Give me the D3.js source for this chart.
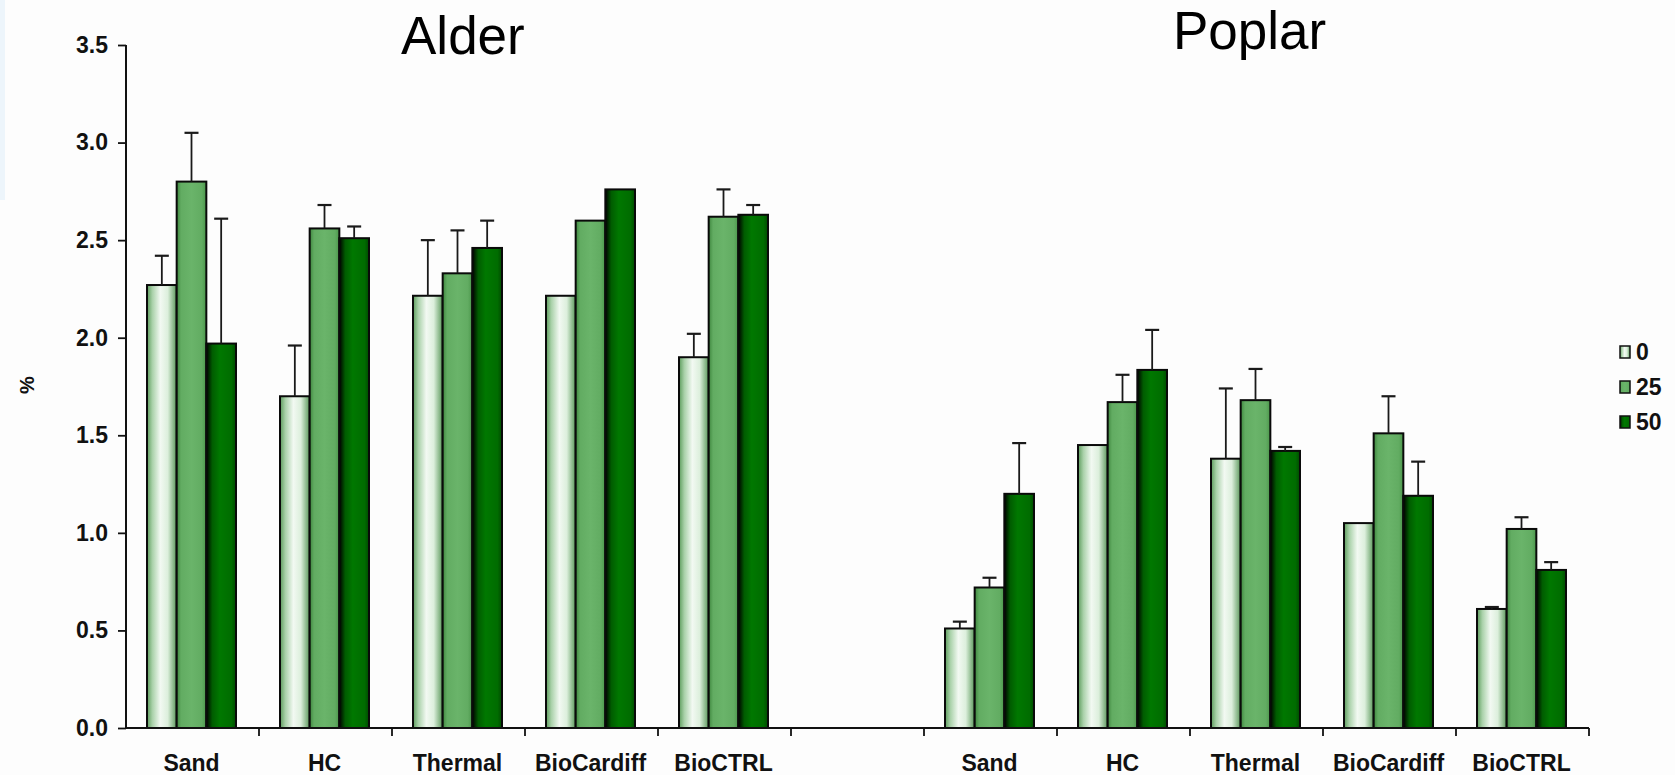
<!DOCTYPE html>
<html>
<head>
<meta charset="utf-8">
<script src="https://cdn.jsdelivr.net/npm/d3@7"></script>
<style>
  body { margin: 0; background: #fdfdfd; }
  svg { display: block; }
  text { font-family: Arial, "Liberation Sans", sans-serif; }
</style>
</head>
<body>
<div id="chart"></div>
<script>
// categories and series
const categories = ["Sand", "HC", "Thermal", "BioCardiff", "BioCTRL"];
const series = ["0", "25", "50"];
const yTicks = [0, 0.5, 1.0, 1.5, 2.0, 2.5, 3.0, 3.5];

// Alder means and error (upper) values
const alder0  = [2.27, 1.70, 2.215, 2.215, 1.90];
const alder25 = [2.80, 2.56, 2.33, 2.60, 2.62];
const alder50 = [1.97, 2.51, 2.46, 2.76, 2.63];
const alderErr0  = [0.15, 0.26, 0.285, 0, 0.12];
const alderErr25 = [0.25, 0.12, 0.22, 0, 0.14];
const alderErr50 = [0.64, 0.06, 0.14, 0, 0.05];

// Poplar means and error values
const poplar0  = [0.51, 1.45, 1.38, 1.05, 0.61];
const poplar25 = [0.72, 1.67, 1.68, 1.51, 1.02];
const poplar50 = [1.20, 1.835, 1.42, 1.19, 0.81];
const poplarErr0  = [0.035, 0, 0.36, 0, 0.01];
const poplarErr25 = [0.05, 0.14, 0.16, 0.19, 0.06];
const poplarErr50 = [0.26, 0.205, 0.02, 0.175, 0.04];

const width = 1675, height = 775;
const margins = {top: 45, right: 86, bottom: 47, left: 126};
const labelSize = 23;

// 11 slots: 5 alder, one empty, 5 poplar
const slots = categories.map(c => "A-" + c)
  .concat(["gap"])
  .concat(categories.map(c => "P-" + c));

const rows = [];
const groups = [
  {prefix: "A-", vals: [alder0, alder25, alder50], errs: [alderErr0, alderErr25, alderErr50]},
  {prefix: "P-", vals: [poplar0, poplar25, poplar50], errs: [poplarErr0, poplarErr25, poplarErr50]}
];
groups.forEach(g => {
  categories.forEach((c, i) => {
    series.forEach((s, j) => {
      rows.push({slot: g.prefix + c, series: s, si: j, value: g.vals[j][i], err: g.errs[j][i]});
    });
  });
});

const svg = d3.select("#chart")
  .append("svg")
  .attr("width", width)
  .attr("height", height);

svg.append("rect").attr("width", width).attr("height", height).attr("fill", "#fdfdfd");
svg.append("rect").attr("width", 5).attr("height", 200).attr("fill", "#edf5fb");

// gradients for the three shades
const defs = svg.append("defs");
const grads = [
  [[0, "#5c9c5c"], [0.18, "#a9d1a9"], [0.45, "#f2f9f2"], [0.7, "#dcefdc"], [1, "#5a985a"]],
  [[0, "#3e863e"], [0.15, "#62ac62"], [0.5, "#6ab46a"], [0.85, "#62ac62"], [1, "#4a954a"]],
  [[0, "#000000"], [0.2, "#005c00"], [0.45, "#007800"], [0.85, "#006c00"], [1, "#004a00"]]
];
grads.forEach((stops, i) => {
  const lg = defs.append("linearGradient")
    .attr("id", "g" + i)
    .attr("x1", 0).attr("x2", 1).attr("y1", 0).attr("y2", 0);
  stops.forEach(s => lg.append("stop").attr("offset", s[0]).attr("stop-color", s[1]));
});

const x = d3.scaleBand()
  .domain(slots)
  .range([margins.left, width - margins.right])
  .padding(0);

const xInner = d3.scaleBand()
  .domain(series)
  .range([21, 110])
  .padding(0);

const y = d3.scaleLinear()
  .domain([0, 3.5])
  .range([height - margins.bottom, margins.top]);

// bars
const chart = svg.append("g").attr("class", "bars");
chart.selectAll("rect")
  .data(rows)
  .enter()
  .append("rect")
  .attr("x", d => x(d.slot) + xInner(d.series))
  .attr("y", d => y(d.value))
  .attr("width", xInner.bandwidth())
  .attr("height", d => y(0) - y(d.value))
  .attr("fill", d => `url(#g${d.si})`)
  .attr("stroke", "#0a0a0a")
  .attr("stroke-width", 2);

// error bars
const errs = svg.append("g").attr("class", "errors")
  .attr("stroke", "#1a1a1a");
const withErr = rows.filter(d => d.err > 0);
const cx = d => x(d.slot) + xInner(d.series) + xInner.bandwidth() / 2;
errs.selectAll("line.stem")
  .data(withErr)
  .enter()
  .append("line")
  .attr("class", "stem")
  .attr("x1", cx)
  .attr("x2", cx)
  .attr("y1", d => y(d.value))
  .attr("y2", d => y(d.value + d.err))
  .attr("stroke-width", 1.8);
errs.selectAll("line.cap")
  .data(withErr)
  .enter()
  .append("line")
  .attr("class", "cap")
  .attr("x1", d => cx(d) - 7)
  .attr("x2", d => cx(d) + 7)
  .attr("y1", d => y(d.value + d.err))
  .attr("y2", d => y(d.value + d.err))
  .attr("stroke-width", 2.2);

// y axis
const yAxis = svg.append("g")
  .attr("transform", `translate(${margins.left},0)`)
  .call(d3.axisLeft(y).tickValues(yTicks).tickFormat(d3.format(".1f")).tickSize(8).tickPadding(10));
yAxis.select(".domain").attr("stroke", "#111").attr("stroke-width", 2).attr("d", `M0,${y(3.5)}V${y(0)}`);
yAxis.selectAll(".tick line").attr("stroke", "#111").attr("stroke-width", 1.8);
yAxis.selectAll("text")
  .attr("font-size", labelSize)
  .attr("font-weight", "bold")
  .attr("fill", "#111")
  .style("font-family", "Arial, 'Liberation Sans', sans-serif");

// x axis line and boundary ticks
const base = y(0);
svg.append("line")
  .attr("x1", margins.left).attr("x2", width - margins.right)
  .attr("y1", base).attr("y2", base)
  .attr("stroke", "#111").attr("stroke-width", 2);
svg.append("g").selectAll("line")
  .data(slots)
  .enter()
  .append("line")
  .attr("x1", d => x(d) + x.bandwidth())
  .attr("x2", d => x(d) + x.bandwidth())
  .attr("y1", base).attr("y2", base + 8)
  .attr("stroke", "#111").attr("stroke-width", 1.8);

// category labels
svg.append("g").selectAll("text")
  .data(slots.filter(s => s !== "gap"))
  .enter()
  .append("text")
  .attr("x", d => x(d) + x.bandwidth() / 2 - 1)
  .attr("y", 771)
  .attr("text-anchor", "middle")
  .attr("font-size", labelSize)
  .attr("font-weight", "bold")
  .attr("fill", "#111")
  .text(d => d.slice(2));

// titles
svg.append("text").attr("x", 401).attr("y", 54).attr("font-size", 53).attr("fill", "#000").text("Alder");
svg.append("text").attr("x", 1173).attr("y", 49).attr("font-size", 53).attr("fill", "#000").text("Poplar");

// y label
svg.append("text")
  .attr("transform", "translate(34,385) rotate(-90)")
  .attr("text-anchor", "middle")
  .attr("font-size", 20)
  .attr("font-weight", "bold")
  .attr("fill", "#111")
  .text("%");

// legend
const legend = svg.append("g").attr("transform", "translate(1620,0)");
const legendY = [352, 387, 422];
series.forEach((s, i) => {
  legend.append("rect")
    .attr("x", 0).attr("y", legendY[i] - 6)
    .attr("width", 10).attr("height", 12)
    .attr("fill", `url(#g${i})`)
    .attr("stroke", "#111").attr("stroke-width", 1.5);
  legend.append("text")
    .attr("x", 16).attr("y", legendY[i] + 8)
    .attr("font-size", labelSize)
    .attr("font-weight", "bold")
    .attr("fill", "#111")
    .text(s);
});
</script>
</body>
</html>
